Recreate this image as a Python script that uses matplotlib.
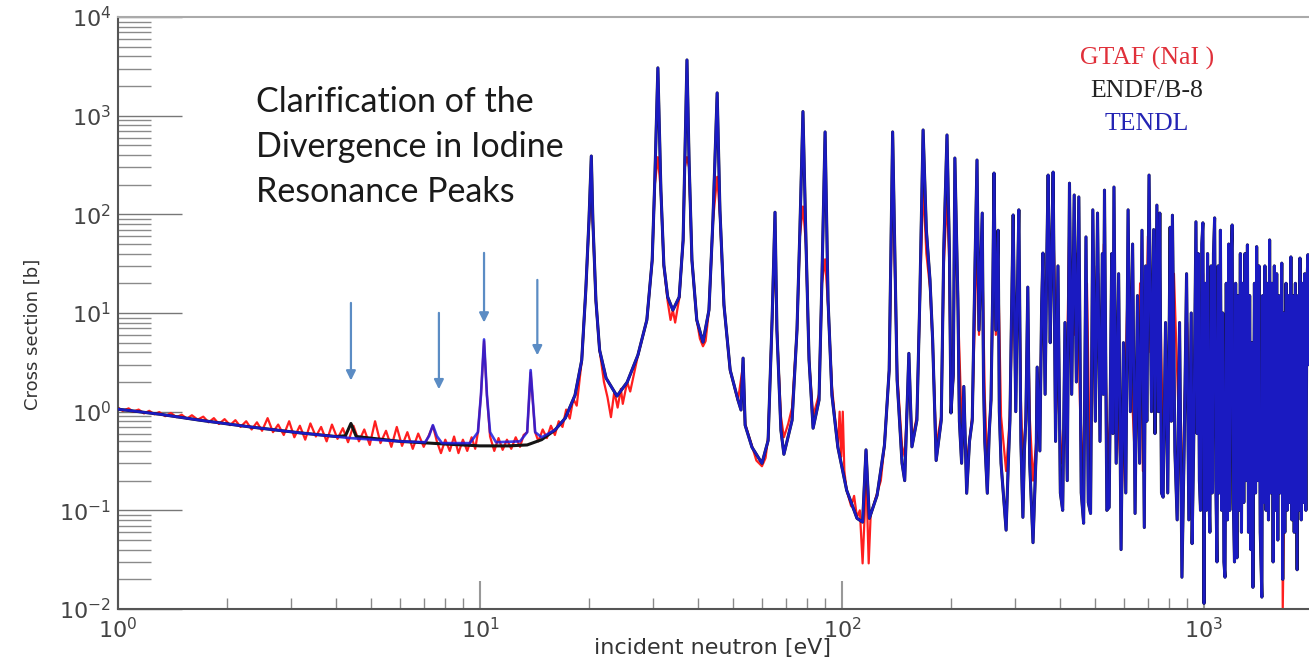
import matplotlib
matplotlib.use('Agg')
import matplotlib.pyplot as plt
from matplotlib.ticker import LogLocator, NullFormatter

# TENDL (blue): (energy eV, cross section b)
tendl_pts = [
    (1.00, 1.06), (1.31, 0.94), (1.68, 0.82), (2.32, 0.70), (3.18, 0.61), (4.37, 0.54), (6.01, 0.50), (7.05, 0.49),
    (7.23, 0.565), (7.41, 0.73), (7.60, 0.565), (7.85, 0.48), (9.38, 0.48), (9.87, 0.62), (10.06, 1.47), (10.26, 5.4),
    (10.45, 1.47), (10.66, 0.62), (11.07, 0.49), (12.9, 0.50), (13.5, 0.62), (13.8, 2.64), (14.2, 0.62), (14.8, 0.55),
    (16.1, 0.65), (17.2, 0.86), (18.3, 1.47), (19.1, 3.33), (19.6, 17.1), (20.0, 87.5), (20.3, 390), (20.5, 87.5),
    (20.9, 13.5), (21.4, 4.2), (22.3, 2.19), (23.9, 1.44), (25.5, 1.99), (27.3, 3.74), (28.9, 8.5), (29.9, 34.4),
    (30.4, 223), (31.0, 3050), (31.6, 176), (32.2, 30.6), (33.0, 14.5), (34.1, 10.7), (35.5, 14.5), (36.4, 54.8),
    (36.8, 355), (37.3, 3670), (37.8, 355), (38.5, 34.4), (39.7, 8.5), (41.3, 5.07), (42.9, 10.7), (44.0, 87.5),
    (45.2, 1700), (46.0, 111), (47.2, 12.0), (49.1, 2.64), (51.6, 1.31), (52.6, 1.04), (53.3, 3.49), (54.0, 0.73),
    (56.4, 0.436), (60.1, 0.30), (62.5, 0.51), (64.1, 8.5), (65.3, 105), (66.1, 6.7), (67.8, 0.65), (69.1, 0.37),
    (72.8, 0.82), (75.1, 6.7), (76.5, 69.3), (78.0, 1100), (79.5, 54.8), (81.1, 3.33), (83.2, 0.68), (86.4, 1.31),
    (88.0, 21.6), (89.8, 684), (91.5, 13.5), (93.8, 1.47), (97.4, 0.436), (103, 0.16), (110, 0.083), (114, 0.076),
    (116.5, 0.41), (119, 0.083), (125, 0.142), (131, 0.457), (135, 2.64), (138, 684), (142, 2.09), (146.5, 0.30),
    (149, 0.20), (153, 3.9), (156, 0.44), (161, 0.82), (164, 13.5), (167.5, 716), (171, 69), (175, 21.6),
    (178, 5.3), (182, 0.32), (188, 0.82), (191, 43), (195, 637), (198, 43), (200, 0.97), (203, 2.4),
    (205, 372), (209, 13.5), (211, 0.8), (214, 0.3), (217, 1.8), (221, 0.149), (225, 0.5), (229, 0.82),
    (233, 30), (236, 355), (239, 6.7), (244, 103), (246, 2), (248, 0.5), (252, 0.149), (255, 0.6),
    (258, 1.31), (261, 20), (263, 262), (266, 6.7), (270, 69), (272, 1), (275, 0.3), (279, 0.15),
    (284, 0.063), (288, 0.3), (291, 0.82), (294, 10), (297, 98.5), (302, 1), (305, 15), (308, 111),
    (312, 0.5), (316, 0.085), (319, 0.4), (322, 0.82), (326, 18.3), (330, 0.3), (337, 0.047), (344, 0.41),
    (346, 2.83), (352, 0.4), (356, 12), (359, 40.5), (364, 1.5), (368, 40), (371, 250), (376, 5),
    (380, 60),
    (383, 268), (389, 0.5), (395, 30), (401, 0.15), (407, 0.1), (413, 8), (419, 0.2), (425, 207),
    (431, 1.5), (438, 157), (444, 2), (451, 150), (458, 0.15), (465, 0.074), (472, 59), (479, 0.12),
    (486, 0.093), (493, 111), (501, 0.8), (508, 103), (516, 0.5), (524, 40), (527, 1.5), (531, 176),
    (539, 0.1), (547, 0.107), (556, 40), (560, 0.6), (564, 189), (572, 0.3), (581, 25), (590, 0.04),
    (599, 5), (608, 0.15), (617, 111), (626, 1), (635, 50), (645, 0.093), (655, 15), (664, 0.3),
    (674, 69), (684, 0.067), (690, 30), (695, 0.8), (705, 250), (716, 1), (726, 70), (732, 0.6),
    (741, 124), (748, 1), (755, 103), (763, 0.15), (771, 0.136), (783, 8), (794, 0.15), (806, 74),
    (812, 0.8), (818, 98), (831, 0.4), (843, 0.08), (856, 8), (869, 0.021), (882, 0.5), (895, 25),
    (908, 0.08), (922, 10), (927, 0.046), (936, 0.4), (950, 84), (957, 0.6), (964, 40), (971, 0.2),
    (978, 0.1), (986, 50), (993, 82), (1000, 0.0114), (1008, 20), (1015, 0.1), (1023, 40), (1030, 0.2),
    (1038, 0.06), (1046, 30), (1054, 0.15), (1062, 40), (1070, 92), (1078, 0.2), (1086, 0.03), (1094, 30),
    (1102, 0.15), (1110, 69), (1119, 0.1), (1127, 10), (1135, 0.03), (1143, 0.021), (1152, 20), (1161, 0.08),
    (1170, 50), (1178, 0.1), (1187, 30), (1196, 78), (1205, 0.12), (1214, 0.03), (1223, 20), (1233, 0.033),
    (1241, 15), (1250, 0.1), (1260, 40), (1269, 0.06), (1279, 20), (1288, 0.12), (1298, 40), (1307, 0.2),
    (1318, 49), (1327, 0.06), (1337, 15), (1347, 0.04), (1357, 5), (1365, 0.0166), (1378, 20), (1388, 0.15),
    (1398, 47), (1409, 0.2), (1419, 30), (1430, 0.06), (1445, 0.0132), (1452, 15), (1462, 0.12), (1473, 30),
    (1484, 0.1), (1496, 20), (1507, 0.08), (1518, 55), (1529, 0.15), (1541, 20), (1552, 0.03), (1564, 30),
    (1576, 0.1), (1588, 25), (1599, 0.05), (1611, 15), (1623, 0.15), (1640, 32), (1650, 0.02), (1660, 10),
    (1672, 0.06), (1685, 20), (1697, 0.1), (1710, 15), (1723, 0.12), (1738, 37), (1749, 0.08), (1762, 15),
    (1775, 0.06), (1788, 20), (1808, 0.025), (1820, 15), (1829, 0.1), (1841, 36), (1856, 0.08), (1870, 20),
    (1884, 0.12), (1898, 25), (1912, 0.1), (1925, 20), (1937, 39), (1950, 3),
]

# ENDF/B-8 (black): smooth below 16 eV (no 7.5/10/14 eV peaks), same as TENDL above
endf_low_pts = [
    (1.00, 1.06), (1.31, 0.94), (1.68, 0.82), (2.32, 0.70), (3.18, 0.61), (4.0, 0.56), (4.25, 0.57),
    (4.4, 0.76), (4.55, 0.56), (6.01, 0.50), (8.0, 0.47), (10.0, 0.45), (12.0, 0.45), (13.5, 0.46),
    (14.8, 0.52), (16.1, 0.65),
]

# GTAF (NaI) (red)
gtaf_pts = [
    (1.00, 1.10), (1.03, 1.02), (1.07, 1.08), (1.10, 1.00), (1.14, 1.05), (1.18, 0.96), (1.22, 1.02), (1.26, 0.94),
    (1.30, 0.99), (1.35, 0.90), (1.40, 0.97), (1.45, 0.88), (1.50, 0.93), (1.55, 0.85), (1.60, 0.92), (1.66, 0.83),
    (1.72, 0.89), (1.78, 0.78), (1.84, 0.86), (1.90, 0.75), (1.97, 0.84), (2.04, 0.73), (2.11, 0.82), (2.18, 0.70),
    (2.26, 0.80), (2.34, 0.66), (2.42, 0.78), (2.50, 0.64), (2.59, 0.86), (2.68, 0.62), (2.77, 0.74), (2.87, 0.58),
    (2.97, 0.80), (3.07, 0.55), (3.18, 0.72), (3.29, 0.52), (3.40, 0.76), (3.52, 0.56), (3.64, 0.70), (3.77, 0.50),
    (3.90, 0.74), (4.04, 0.53), (4.18, 0.68), (4.32, 0.49), (4.47, 0.72), (4.63, 0.50), (4.79, 0.66), (4.96, 0.46),
    (5.13, 0.80), (5.31, 0.48), (5.50, 0.64), (5.69, 0.44), (5.89, 0.70), (6.09, 0.45), (6.30, 0.62), (6.52, 0.42),
    (6.75, 0.60), (6.99, 0.44), (7.23, 0.58), (7.41, 0.72), (7.60, 0.50), (7.80, 0.38), (8.02, 0.52), (8.25, 0.40),
    (8.48, 0.56), (8.72, 0.38), (8.97, 0.52), (9.22, 0.40), (9.48, 0.55), (9.70, 0.42), (9.87, 0.62), (10.06, 1.47),
    (10.26, 5.2), (10.45, 1.47), (10.66, 0.56), (10.95, 0.40), (11.25, 0.54), (11.55, 0.41), (11.87, 0.52), (12.2, 0.42),
    (12.55, 0.55), (12.9, 0.44), (13.2, 0.58), (13.5, 0.62), (13.8, 2.5), (14.2, 0.62), (14.5, 0.50), (14.9, 0.66),
    (15.3, 0.54), (15.7, 0.72), (16.1, 0.58), (16.5, 0.80), (16.9, 0.70), (17.3, 1.05), (17.7, 0.85), (18.1, 1.35),
    (18.5, 1.15), (19.1, 3.3), (19.6, 17), (20.0, 80), (20.3, 190), (20.5, 80), (20.9, 13), (21.4, 4.2),
    (22.0, 2.0), (22.5, 1.4), (23.0, 0.88), (23.5, 1.6), (24.0, 1.1), (24.5, 1.7), (24.8, 1.2), (25.5, 2.0),
    (26.0, 1.6), (27.3, 3.7), (28.9, 8.5), (29.9, 34), (30.4, 200), (31.0, 380), (31.6, 170), (32.2, 30),
    (33.0, 13), (33.6, 8.5), (34.1, 10.7), (34.6, 8.0), (35.5, 14), (36.4, 54), (36.8, 300), (37.3, 380),
    (37.8, 300), (38.5, 34), (39.7, 8.5), (40.5, 5.5), (41.3, 4.6), (42.0, 5.2), (42.9, 10.7), (44.0, 85),
    (45.2, 240), (46.0, 100), (47.2, 12), (49.1, 2.6), (51.6, 1.3), (53.3, 3.0), (54.0, 0.75), (56.4, 0.45),
    (58, 0.32), (60.1, 0.28), (61.5, 0.34), (62.5, 0.55), (64.1, 8.5), (65.3, 46), (66.1, 6.7), (67.8, 0.9),
    (69.1, 0.55), (71, 0.75), (72.8, 1.1), (75.1, 6.7), (76.5, 60), (78.0, 120), (79.5, 50), (81.1, 3.3),
    (83.2, 0.9), (85, 1.2), (86.4, 1.5), (88.0, 20), (89.8, 35), (91.5, 12), (93.8, 1.8), (97.4, 0.44),
    (98.5, 1.0), (99.5, 0.35), (100.5, 1.0), (101.5, 0.25), (103, 0.16), (106, 0.11), (108, 0.14), (110, 0.085),
    (112, 0.10), (114, 0.029), (115.5, 0.09), (116.5, 0.40), (117.5, 0.09), (118.5, 0.029), (120, 0.09), (125, 0.15),
    (128, 0.2), (131, 0.46), (135, 2.6), (138, 300), (142, 2.5), (146.5, 0.45), (149, 0.35), (153, 2.5),
    (156, 0.5), (161, 0.9), (164, 12), (167.5, 200), (171, 40), (175, 18), (178, 5), (182, 0.45),
    (188, 0.9), (191, 30), (195, 150), (198, 30), (200, 1.1), (203, 2.2), (205, 120), (209, 12),
    (214, 0.8), (221, 0.3), (229, 0.9), (236, 60), (239, 6), (244, 40), (248, 1.4), (252, 0.3),
    (258, 1.3), (263, 80), (266, 6), (270, 30), (275, 0.9), (284, 0.25), (291, 0.9), (297, 30),
    (302, 2), (308, 40), (312, 1.3), (316, 0.3), (322, 0.9), (326, 10), (330, 0.9), (337, 0.2),
    (344, 0.5), (346, 2.5), (352, 1.3), (359, 20), (364, 6), (371, 80), (376, 10), (383, 90),
    (393, 2), (405, 0.3), (416, 0.9), (424, 60), (429, 6), (435, 40), (440, 6), (446, 40),
    (454, 1.3), (460, 0.2), (469, 1.3), (475, 20), (484, 0.25), (491, 1.3), (497, 30), (503, 5),
    (510, 25), (519, 4), (529, 50), (536, 2), (543, 0.3), (554, 1.3), (561, 40), (572, 2),
    (593, 0.15), (605, 1.3), (617, 30), (625, 4), (645, 0.3), (655, 1.3), (666, 20), (678, 0.25),
    (689, 1.3), (700, 60), (711, 4), (726, 10), (741, 30), (748, 4), (755, 25), (771, 0.4),
    (790, 1.3), (811, 20), (816, 6), (826, 25), (848, 1.3), (869, 0.1), (884, 1.3), (898, 8),
    (927, 0.15), (939, 1.3), (951, 25), (967, 1.3), (980, 10), (994, 25), (1000, 0.1), (1019, 1.3),
    (1039, 10), (1072, 25), (1093, 1.3), (1107, 20), (1143, 0.1), (1166, 1.3), (1195, 20), (1233, 0.1),
    (1264, 1.3), (1315, 15), (1338, 1.3), (1365, 0.1), (1380, 1.3), (1401, 15), (1445, 0.1), (1470, 1.3),
    (1521, 15), (1560, 1.3), (1600, 8), (1640, 10), (1650, 0.01), (1680, 1.3), (1738, 10), (1808, 0.1),
    (1841, 10), (1890, 1.3), (1937, 10), (1950, 3),
]

# arrows marking the divergent peaks: energy, tail, tip
arrow_e = [4.40, 7.70, 10.26, 14.4]
arrow_top = [13.5, 10.7, 43.4, 23.1]
arrow_tip = [1.94, 1.58, 7.5, 3.49]

x_ticks = [1, 10, 100, 1000]
y_ticks = [1e-2, 1e-1, 1, 10, 100, 1000, 1e4]

labels = ['GTAF (NaI )', 'ENDF/B-8', 'TENDL']
label_colors = ['#e0303a', '#222222', '#2424b4']

tendl_e, tendl_xs = zip(*tendl_pts)
endf_pts = endf_low_pts + [p for p in tendl_pts if p[0] > 16.1]
endf_e, endf_xs = zip(*endf_pts)
gtaf_e, gtaf_xs = zip(*gtaf_pts)

fig = plt.figure(figsize=(13.09, 6.68), dpi=100)
ax = fig.add_axes([118 / 1309, 59 / 668, 1 - 118 / 1309, 592 / 668])
ax.set_xscale('log')
ax.set_yscale('log')

ax.plot(gtaf_e, gtaf_xs, color='#ff1f1f', lw=1.6, zorder=2)
ax.plot(endf_e, endf_xs, color='#141414', lw=2.2, zorder=3)
ax.plot(tendl_e, tendl_xs, color='#1c1ce0', lw=1.9, alpha=0.85, zorder=4)

for e, top, tip in zip(arrow_e, arrow_top, arrow_tip):
    ax.annotate('', xy=(e, tip), xytext=(e, top),
                arrowprops=dict(arrowstyle='-|>', color='#5b8cc4', lw=1.6, mutation_scale=14))

ax.set_xticks(x_ticks)
ax.set_yticks(y_ticks)
ax.yaxis.set_minor_locator(LogLocator(base=10, subs=range(2, 10), numticks=20))
ax.yaxis.set_minor_formatter(NullFormatter())
ax.xaxis.set_minor_formatter(NullFormatter())
ax.set_xlim(1, 1950)
ax.set_ylim(1e-2, 1e4)

ax.tick_params(axis='y', which='major', direction='in', length=46, width=1.0, color='#777777',
               labelsize=16, labelcolor='#444444', pad=5)
ax.tick_params(axis='y', which='minor', direction='in', length=24, width=1.0, color='#8a8a8a')
ax.tick_params(axis='x', which='major', direction='in', length=20, width=1.5, color='#999999',
               labelsize=16, labelcolor='#444444', pad=6)
ax.tick_params(axis='x', which='minor', direction='in', length=8, width=1.0, color='#8a8a8a')

for side in ['left', 'bottom']:
    ax.spines[side].set_color('#555555')
    ax.spines[side].set_linewidth(1.5)
ax.spines['top'].set_color('#aaaaaa')
ax.spines['top'].set_linewidth(1.5)
ax.spines['right'].set_visible(False)

fig.text(33 / 1309, 1 - 334 / 668, 'Cross section [b]', rotation=90, ha='center', va='center',
         fontsize=13, color='#333333')
fig.text(712 / 1309, 1 - 648 / 668, 'incident neutron [eV]', ha='center', va='center',
         fontsize=16, color='#333333')

fig.text(256 / 1309, 1 - 86 / 668, 'Clarification of the\nDivergence in Iodine\nResonance Peaks',
         ha='left', va='top', fontsize=24.5, family='Lato', linespacing=1.5, color='#1a1a1a')

for i, (txt, c) in enumerate(zip(labels, label_colors)):
    fig.text(1147 / 1309, 1 - (58 + 33 * i) / 668, txt, ha='center', va='center',
             fontsize=18.5, family='Liberation Serif', color=c)

fig.savefig('out.png', dpi=100)
